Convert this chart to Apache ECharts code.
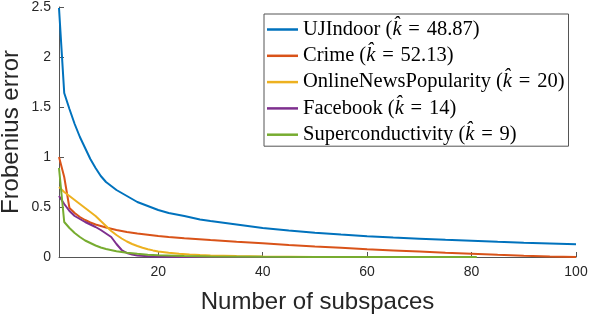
<!DOCTYPE html>
<html>
<head>
<meta charset="utf-8">
<script src="https://cdn.jsdelivr.net/npm/echarts@6/dist/echarts.min.js"></script>
<style>html,body{margin:0;padding:0;background:#fff}#c{width:590px;height:314px}</style>
</head>
<body>
<div id="c"></div>
<script>
const seriesNames = ['UJIndoor', 'Crime', 'OnlineNewsPopularity', 'Facebook', 'Superconductivity'];
const kHat = ['48.87', '52.13', '20', '14', '9'];
const xTicks = [20, 40, 60, 80, 100];

const ujX = [1,2,3,4,5,6,7,8,9,10,11,12,13,14,15,16,18,20,22,25,28,30,35,40,45,50,55,60,65,70,75,80,85,90,95,100];
const ujY = [2.49,1.64,1.48,1.33,1.20,1.09,0.98,0.89,0.81,0.75,0.71,0.67,0.64,0.61,0.58,0.55,0.51,0.47,0.44,0.41,0.375,0.36,0.325,0.29,0.265,0.243,0.225,0.208,0.194,0.183,0.172,0.162,0.152,0.143,0.135,0.127];

const crimeX = [1,2,3,4,5,6,7,8,9,10,11,12,13,14,15,16,18,20,22,25,30,35,40,45,50,55,60,65,70,75,80,85,90,95,100];
const crimeY = [1.0,0.80,0.49,0.44,0.40,0.37,0.345,0.325,0.31,0.295,0.283,0.27,0.26,0.25,0.242,0.234,0.222,0.21,0.2,0.188,0.17,0.153,0.137,0.121,0.106,0.092,0.078,0.066,0.054,0.042,0.032,0.022,0.013,0.006,0.0];

const newsX = [1,2,3,4,5,6,7,8,9,10,11,12,13,14,15,16,17,18,19,20,22,24,26,28,30,35,40,45,50,58];
const newsY = [0.70,0.65,0.61,0.57,0.53,0.49,0.45,0.41,0.36,0.31,0.26,0.22,0.185,0.155,0.13,0.11,0.093,0.078,0.066,0.056,0.042,0.032,0.025,0.02,0.016,0.009,0.005,0.003,0.001,0.0];

const fbX = [1,2,3,4,5,6,7,8,9,10,11,12,13,14,15,16,18,20,25,30,52];
const fbY = [0.61,0.53,0.46,0.41,0.38,0.35,0.325,0.30,0.27,0.235,0.20,0.13,0.07,0.04,0.025,0.015,0.007,0.003,0.001,0.0,0.0];

const scX = [1,2,3,4,5,6,7,8,9,10,12,14,16,18,20,25,30,40,50,60,81];
const scY = [0.89,0.35,0.29,0.24,0.20,0.165,0.14,0.115,0.095,0.08,0.058,0.043,0.032,0.023,0.017,0.009,0.005,0.002,0.001,0.0,0.0];

const colors = ['#0072BD', '#D95319', '#EDB120', '#7E2F8E', '#77AC30'];
const allX = [ujX, crimeX, newsX, fbX, scX];
const allY = [ujY, crimeY, newsY, fbY, scY];

const chart = echarts.init(document.getElementById('c'), null, {renderer: 'canvas'});
const axisColor = '#262626';
chart.setOption({
  animation: false,
  color: colors,
  grid: {left: 59, right: 14, top: 7, bottom: 57, containLabel: false, outerBoundsMode: 'none'},
  xAxis: {
    type: 'value', min: 1, max: 100,
    name: 'Number of subspaces', nameLocation: 'middle', nameGap: 33, nameMoveOverlap: false,
    nameTextStyle: {fontFamily: 'Liberation Sans', fontSize: 24, color: axisColor},
    axisLine: {show: true, lineStyle: {color: '#555', width: 1}},
    axisTick: {show: true, inside: true, length: 5, customValues: xTicks, lineStyle: {color: '#555'}},
    axisLabel: {customValues: xTicks, fontFamily: 'Liberation Sans', fontSize: 14, color: axisColor, margin: 8},
    splitLine: {show: false}
  },
  yAxis: {
    type: 'value', min: 0, max: 2.5, interval: 0.5,
    name: 'Frobenius error', nameLocation: 'middle', nameGap: 36, nameMoveOverlap: false,
    nameTextStyle: {fontFamily: 'Liberation Sans', fontSize: 24, color: axisColor},
    axisLine: {show: true, lineStyle: {color: '#555', width: 1}},
    axisTick: {show: true, inside: true, length: 5, lineStyle: {color: '#555'}},
    axisLabel: {fontFamily: 'Liberation Sans', fontSize: 14, color: axisColor, margin: 8},
    splitLine: {show: false}
  },
  legend: {
    orient: 'vertical', left: 264, top: 14,
    padding: [5, 4, 1, 3], itemGap: 5.3, itemWidth: 31, itemHeight: 2.5, icon: 'rect',
    backgroundColor: '#fff', borderColor: '#555', borderWidth: 1,
    data: seriesNames,
    formatter: function (name) {
      const i = seriesNames.indexOf(name);
      return name + ' ({k|k\u0302}\u2004=\u2004' + kHat[i] + ')';
    },
    textStyle: {
      fontFamily: 'Liberation Serif', fontSize: 20.5, lineHeight: 20, color: '#000',
      rich: {k: {fontFamily: 'Liberation Serif', fontStyle: 'italic', fontSize: 20.5, color: '#000'}}
    }
  },
  series: seriesNames.map(function (n, i) {
    return {
      name: n, type: 'line', showSymbol: false, symbol: 'none', smooth: false,
      data: allX[i].map(function (x, j) { return [x, allY[i][j]]; }),
      lineStyle: {width: 2, color: colors[i]},
      itemStyle: {color: colors[i]}
    };
  })
});
</script>
</body>
</html>
